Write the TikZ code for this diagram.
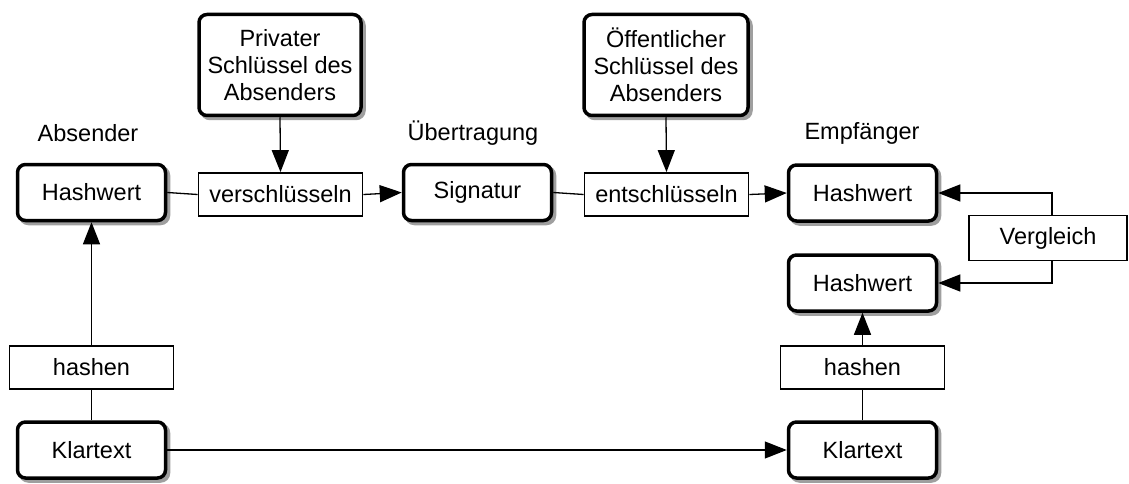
\documentclass[tikz,border=0pt]{standalone}
\usepackage{fontspec}
\setmainfont{Liberation Sans}
\usetikzlibrary{arrows.meta,shadows}
\begin{document}
\begin{tikzpicture}[x=1pt,y=-1pt,
  font=\fontsize{23.5}{27}\selectfont,
  roundbox/.style={draw=black, fill=white, line width=3.5pt, rounded corners=8pt,
    inner sep=0pt, align=center, minimum width=148pt, minimum height=56pt,
    drop shadow={opacity=1, fill=gray!75, draw=gray!75, line width=3.5pt,
      shadow xshift=3pt, shadow yshift=-3pt}},
  opbox/.style={draw=black, fill=white, line width=1.8pt, inner sep=0pt,
    minimum width=164pt, minimum height=43pt},
  lbl/.style={inner sep=0pt},
  link/.style={line width=1.3pt},
  arr/.style={link, -{Triangle[length=22pt,width=17pt]}}]
\useasboundingbox (0,0) rectangle (1129,484);

% keys
\node[roundbox, minimum width=162pt, minimum height=101pt] (keyL) at (280,65)
  {Privater\\Schlüssel des\\Absenders};
\node[roundbox, minimum width=164pt, minimum height=101pt] (keyR) at (666,65)
  {Öffentlicher\\Schlüssel des\\Absenders};

% column headings
\node[lbl] (hSend) at (88,133) {Absender};
\node[lbl] (hTrans) at (473,133) {Übertragung};
\node[lbl] (hRecv) at (862,133) {Empfänger};

% main row
\node[roundbox] (hwL) at (91.5,192.5) {Hashwert};
\node[opbox] (encr) at (280.5,194.5) {verschlüsseln};
\node[roundbox] (sig) at (477.5,192.5) {Signatur};
\node[opbox] (decr) at (666.5,194.5) {entschlüsseln};
\node[roundbox] (hwR1) at (862.5,193) {Hashwert};

% comparison
\node[opbox, minimum width=158pt, minimum height=45pt] (cmp) at (1048,238) {Vergleich};
\node[roundbox] (hwR2) at (862.5,283) {Hashwert};
\coordinate (vx) at (1052,0);

% hashing steps
\node[opbox] (hashL) at (91.5,367.5) {hashen};
\node[opbox] (hashR) at (862.5,367.5) {hashen};

% plain texts
\node[roundbox] (ptL) at (91.5,450) {Klartext};
\node[roundbox] (ptR) at (862.5,450) {Klartext};

% connectors
\draw[arr] (keyL.south) -- (encr.north);
\draw[link] (hwL.east) -- (encr.west);
\draw[arr] (encr.east) -- (sig.west);
\draw[arr] (keyR.south) -- (decr.north);
\draw[link] (sig.east) -- (decr.west);
\draw[arr] (decr.east) -- (hwR1.west);
\draw[arr] (cmp.north -| vx) |- (hwR1.east);
\draw[arr] (cmp.south -| vx) |- (hwR2.east);
\draw[arr] (hashL.north) -- (hwL.south);
\draw[link] (ptL.north) -- (hashL.south);
\draw[arr] (ptL.east) -- (ptR.west);
\draw[link] (ptR.north) -- (hashR.south);
\draw[arr] (hashR.north) -- (hwR2.south);
\end{tikzpicture}
\end{document}
